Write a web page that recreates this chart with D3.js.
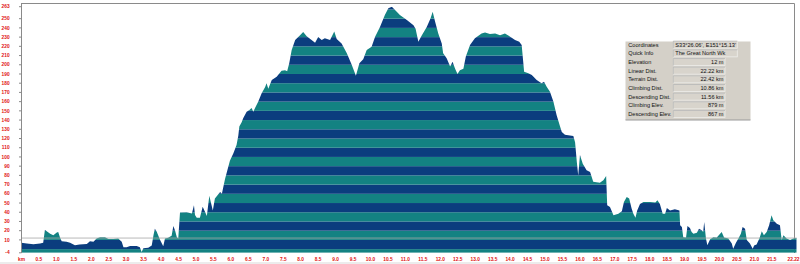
<!DOCTYPE html>
<html><head><meta charset="utf-8">
<script src="https://cdn.jsdelivr.net/npm/d3@7"></script>
<style>
html,body{margin:0;padding:0;background:#fff;}
svg{display:block;}
text{font-family:"Liberation Sans",Arial,sans-serif;}
.narrow{font-family:"Liberation Sans Narrow","Liberation Sans",Arial,sans-serif;}
</style></head>
<body>
<script>
// ---- data ----
const distanceKm = [0.00,0.16,0.35,0.54,0.63,0.68,0.73,0.83,0.92,1.02,1.06,1.11,1.16,1.30,1.40,1.54,1.67,1.88,1.97,2.07,2.16,2.26,2.40,2.50,2.64,2.78,2.88,2.93,3.02,3.12,3.31,3.40,3.45,3.50,3.64,3.74,3.79,3.83,3.88,3.98,4.07,4.12,4.21,4.31,4.36,4.41,4.46,4.50,4.55,4.74,4.89,4.95,4.98,5.03,5.12,5.20,5.32,5.39,5.49,5.55,5.70,5.75,5.84,5.98,6.08,6.17,6.22,6.25,6.32,6.36,6.46,6.54,6.60,6.65,6.70,6.79,6.89,6.99,7.03,7.08,7.18,7.32,7.46,7.56,7.62,7.68,7.75,7.85,7.99,8.08,8.18,8.32,8.42,8.51,8.61,8.70,8.85,8.97,9.04,9.18,9.33,9.47,9.59,9.69,9.80,9.90,10.04,10.14,10.28,10.42,10.52,10.62,10.76,10.85,11.05,11.24,11.30,11.38,11.48,11.62,11.73,11.79,11.86,11.95,12.05,12.09,12.19,12.29,12.36,12.43,12.50,12.57,12.67,12.74,12.86,13.00,13.19,13.29,13.43,13.58,13.72,13.86,14.01,14.15,14.27,14.34,14.37,14.41,14.53,14.63,14.77,14.91,14.98,15.06,15.15,15.25,15.34,15.44,15.49,15.58,15.82,15.87,15.92,15.96,16.01,16.09,16.20,16.30,16.39,16.58,16.68,16.76,16.79,16.87,16.97,17.11,17.21,17.27,17.35,17.42,17.49,17.54,17.60,17.65,17.73,17.83,18.02,18.17,18.23,18.30,18.38,18.45,18.50,18.59,18.73,18.86,18.88,18.93,18.97,19.05,19.09,19.16,19.21,19.26,19.36,19.42,19.50,19.54,19.57,19.62,19.66,19.74,19.83,19.93,20.00,20.07,20.14,20.26,20.36,20.40,20.48,20.55,20.62,20.67,20.74,20.79,20.88,20.96,21.00,21.07,21.15,21.22,21.28,21.36,21.43,21.50,21.55,21.65,21.74,21.79,21.84,21.93,22.03,22.12,22.22];
const elevationM = [7,6,5.3,6,7,21,19.4,16.8,15,18,18.6,13,8.5,8,7,4.2,5,5.5,8.5,8,11.4,13,13,11,11,11.5,8,2,2,3.5,3.5,2,-3,1,1.5,4,15,22,19,10,3,11.4,12.4,14.5,25,20,13,11.4,39.6,40,38.7,47.6,37,34,34,46,36,58,42,55,62,60,76,96,104,113,123,133,138,142,149,151,153,149,153,160,169,176,180,174,183.5,187,193.6,194,193,201.6,216,227,232,235.6,231,227,224,230,227,228.7,227,236,228,223,212.5,200,188,201.6,206,216,219.6,230.5,241,254,261.3,263,257.6,254,248.6,243,239,225,232,241,250.5,257.6,246.8,234,223,212.5,207,198,203.4,196,190,194,195.6,209,221.5,228.7,234,235,233.4,234,232,234,230.5,227,225,221.5,209,192.5,190.8,189,183.5,180,181.5,176,170.8,160,145.6,133,127,124,122.8,116,94.6,80,102,92.7,85.6,83.7,73,72,74.7,79.4,47.6,45.8,36.8,38.5,41,51,56.6,55,44,38.5,34,42,49,51,51,50.5,53,49,38.5,38.5,44.7,42,43.3,42,26,24,13,12.5,25,23,18.7,16.8,17.7,22,20.5,18.7,29.5,11.4,4.2,10.7,13,12.5,15.7,18.7,12.5,11.4,6,0.5,7,11.4,16.8,24,22,10,6,0.5,4,5,11.4,19.4,15,18.7,26,36.8,31.3,27.6,26,10,15,11.4,10,11.4,12];
const yTickValues = [-4,10,20,30,40,50,60,70,80,90,100,110,120,130,140,150,160,170,180,190,200,210,220,230,240,250,263];
const xTickValues = [0,0.5,1,1.5,2,2.5,3,3.5,4,4.5,5,5.5,6,6.5,7,7.5,8,8.5,9,9.5,10,10.5,11,11.5,12,12.5,13,13.5,14,14.5,15,15.5,16,16.5,17,17.5,18,18.5,19,19.5,20,20.5,21,21.5,22.22];
const cursorElevation = 12;
const infoLabels = ["Coordinates","Quick Info","Elevation","Linear Dist.","Terrain Dist.","Climbing Dist.","Descending Dist.","Climbing Elev.","Descending Elev."];
const infoValues = ["S33°26.06', E151°15.13'","The Great North Wk","12 m","22.22 km","22.42 km","10.86 km","11.56 km","879 m","867 m"];

// ---- layout ----
const W = 800, H = 264;
const svg = d3.select("body").append("svg").attr("width", W).attr("height", H);
const x = d3.scaleLinear().domain([0, 22.22]).range([21.2, 796.7]);
const y = d3.scaleLinear().domain([-4, 263]).range([252.8, 6.7]);
const teal = "#138282", navy = "#0b3d7e", red = "#e01010", gray = "#8a8a8a";

svg.append("rect").attr("x",0).attr("y",262).attr("width",W).attr("height",2).attr("fill","#ececec");

// frame
svg.append("line").attr("x1",21).attr("x2",794.5).attr("y1",3.5).attr("y2",3.5).attr("stroke",gray);
svg.append("line").attr("x1",794.5).attr("x2",794.5).attr("y1",3.5).attr("y2",253).attr("stroke",gray);

// area clip
const pts = distanceKm.map((d,i)=>[d, elevationM[i]]);
const area = d3.area().x(d=>x(d[0])).y0(y(-4)).y1(d=>y(d[1])).curve(d3.curveLinear);
svg.append("clipPath").attr("id","profile").append("path").attr("d", area(pts));

// bands
const bounds = [-4];
for (let v = 0; v <= 260; v += 10) bounds.push(v);
bounds.push(263);
const g = svg.append("g").attr("clip-path","url(#profile)");
for (let i = 0; i < bounds.length - 1; i++) {
  const lo = bounds[i], hi = bounds[i+1];
  const k = Math.floor(lo / 10);
  const col = (((k % 2) + 2) % 2 === 1) ? teal : navy;
  g.append("rect").attr("x", x(0)).attr("width", x(22.22) - x(0))
    .attr("y", y(hi)).attr("height", y(lo) - y(hi)).attr("fill", col);
}

// cursor elevation line
svg.append("line").attr("x1",x(0)).attr("x2",x(22.22)).attr("y1",y(cursorElevation)).attr("y2",y(cursorElevation))
  .attr("stroke","#a8a8a8").attr("stroke-width",1).attr("opacity",0.8);

// y axis
svg.append("line").attr("x1",21.5).attr("x2",21.5).attr("y1",3).attr("y2",253).attr("stroke",gray);
const yg = svg.append("g");
yTickValues.forEach(v=>{
  yg.append("line").attr("x1",19).attr("x2",21.5).attr("y1",y(v)).attr("y2",y(v)).attr("stroke",gray);
  yg.append("text").attr("x",9.6).attr("y",y(v)).attr("dy","0.35em").attr("text-anchor","end")
    .attr("font-size",4.8).attr("font-weight","bold").attr("fill",red).text(v);
});

// x axis labels
const xg = svg.append("g");
xTickValues.forEach(v=>{
  const last = v === 22.22;
  const lbl = v === 0 ? "km" : (last ? "22.22" : v.toFixed(1));
  xg.append("text").attr("x", last ? 799.5 : x(v) + 0.3).attr("y",259).attr("dy","0.35em")
    .attr("text-anchor", last ? "end" : "middle")
    .attr("font-size",4.8).attr("font-weight","bold").attr("fill",red).text(lbl);
});

// info panel
const px = 625.5, py = 41.5, pw = 125, ph = 78.5;
const p = svg.append("g");
p.append("rect").attr("x",px).attr("y",py).attr("width",pw).attr("height",ph).attr("fill","#d4d0c8");
p.append("line").attr("x1",px).attr("x2",px+pw).attr("y1",py+ph).attr("y2",py+ph).attr("stroke","#9a9a9a").attr("stroke-width",1.2);
const rowY = i => 44.7 + i * 8.66;
infoLabels.forEach((lab,i)=>{
  const cy = rowY(i);
  p.append("text").attr("class","narrow").attr("x",628.3).attr("y",cy).attr("dy","0.35em")
    .attr("font-size",5.6).attr("fill","#111").text(lab);
  const bx = 673.3, bw = i < 2 ? 64 : 51.7, bh = 7;
  p.append("rect").attr("x",bx).attr("y",cy-bh/2).attr("width",bw).attr("height",bh)
    .attr("fill", "#d8d4cc").attr("stroke","#eeeeea").attr("stroke-width",0.8);
  p.append("line").attr("x1",bx).attr("x2",bx+bw).attr("y1",cy-bh/2).attr("y2",cy-bh/2).attr("stroke","#a0a0a0").attr("stroke-width",0.6);
  p.append("line").attr("x1",bx).attr("x2",bx).attr("y1",cy-bh/2).attr("y2",cy+bh/2).attr("stroke","#a0a0a0").attr("stroke-width",0.6);
  p.append("text").attr("class","narrow").attr("x", i < 2 ? bx + 2 : bx + bw - 1.5).attr("y",cy).attr("dy","0.35em")
    .attr("text-anchor", i < 2 ? "start" : "end")
    .attr("font-size",5.6).attr("fill","#111").text(infoValues[i]);
});
</script>
</body></html>
